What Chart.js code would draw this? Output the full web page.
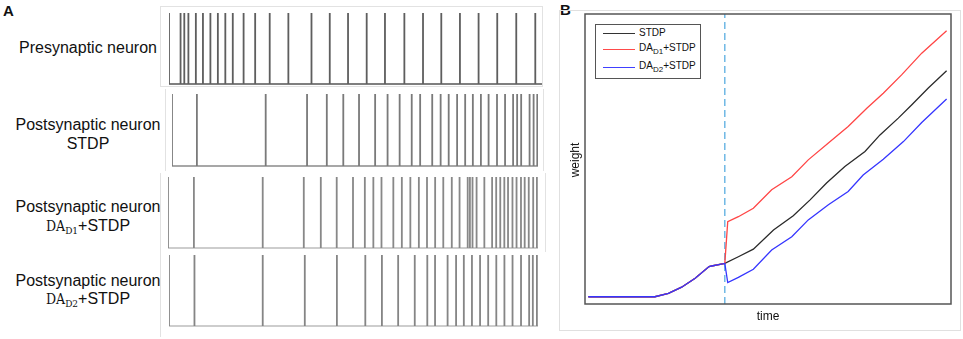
<!DOCTYPE html>
<html>
<head>
<meta charset="utf-8">
<script src="https://cdn.jsdelivr.net/npm/chart.js@4.4.1/dist/chart.umd.min.js"></script>
<style>
  html, body { margin:0; padding:0; background:#fff; }
  body { width:963px; height:339px; position:relative; overflow:hidden;
         font-family:'Liberation Sans', Arial, sans-serif; color:#111; }
  .abs { position:absolute; }
  .lbl { position:absolute; left:0; width:176px; text-align:center; font-size:16px; white-space:nowrap; }
  .da { font-family:'DejaVu Serif Condensed','DejaVu Serif','Liberation Serif',serif; font-size:14px; }
  .da sub { font-size:10px; vertical-align:-3px; line-height:0; }
  .lg { position:absolute; font-size:10px; white-space:nowrap; line-height:12px; }
  .lg sub { font-size:8px; vertical-align:-3px; line-height:0; }
  .ln { position:absolute; height:1.3px; width:32px; left:603px; }
  canvas { position:absolute; }
</style>
</head>
<body>
<script>
// ---------------- DATA ----------------
// Panel A: spike times (arbitrary time units, 0..1000 along each raster)
const spikesPre = [0, 31, 41, 52, 72, 91, 111, 131, 151, 171, 200, 231, 270, 320, 382, 431, 480, 530, 579, 631, 681, 730, 780, 830, 880, 931, 982];
const spikesSTDP = [0, 68, 256, 369, 423, 468, 511, 555, 589, 622, 655, 678, 711, 734, 756, 779, 801, 822, 844, 865, 888, 910, 932, 943, 954, 977, 988, 998];
const spikesD1 = [0, 70, 256, 367, 413, 456, 500, 532, 555, 577, 609, 632, 655, 678, 700, 722, 744, 767, 788, 810, 816, 823, 834, 855, 876, 887, 898, 909, 919, 931, 942, 954, 964, 975, 987, 997];
const spikesD2 = [0, 69, 254, 368, 455, 532, 577, 621, 666, 700, 721, 755, 778, 799, 821, 843, 865, 887, 909, 931, 954, 976, 986, 997];
const rasterSpan = [0, 1000];

// Panel B: weight vs time (arbitrary units 0..100)
const timePre   = [0.9, 19.1, 22.8, 26.4, 30.1, 33.9, 34.6, 38.2];
const weightPre = [2.5, 2.5, 3.7, 5.8, 8.9, 12.9, 13.1, 14.0];
const timeSTDP   = [41.9, 46.0, 51.5, 56.9, 61.5, 66.0, 71.0, 76.5, 80.6, 85.6, 89.3, 93.8, 98.8];
const weightSTDP = [16.3, 18.9, 25.5, 30.4, 35.9, 41.7, 47.4, 52.6, 58.3, 64.1, 68.7, 74.5, 80.4];
const timeD1   = [39.0, 41.9, 46.0, 51.0, 56.5, 61.0, 66.5, 71.9, 77.0, 81.5, 86.5, 92.0, 98.8];
const weightD1 = [28.4, 30.1, 33.0, 39.4, 43.9, 49.7, 55.5, 61.2, 67.5, 72.7, 79.0, 86.5, 94.2];
const timeD2   = [39.0, 41.9, 46.0, 51.0, 56.5, 61.0, 66.5, 71.9, 76.0, 81.5, 87.0, 92.0, 98.8];
const weightD2 = [7.4, 9.2, 12.0, 18.6, 23.2, 29.0, 34.2, 38.8, 44.5, 49.9, 56.0, 62.6, 70.7];
const eventTime = 38.2;
const axisRange = [0, 100];
</script>

<!-- panel letters -->
<div class="abs" style="left:3px;top:2px;font-weight:bold;font-size:15px;">A</div>
<div class="abs" style="left:560px;top:1px;font-weight:bold;font-size:15px;">B</div>

<!-- raster frames -->
<div class="abs" style="left:160px;top:6px;width:381px;height:79px;border:1px solid #e2e2e2;"></div>
<div class="abs" style="left:165px;top:89px;width:377px;height:82px;border-left:1px solid #e2e2e2;border-right:1px solid #e2e2e2;"></div>
<div class="abs" style="left:160px;top:173px;width:384px;height:79px;border-left:1px solid #e2e2e2;border-right:1px solid #e2e2e2;"></div>
<div class="abs" style="left:160px;top:251px;width:384px;height:86px;border-left:1px solid #e2e2e2;"></div>
<!-- panel B frame -->
<div class="abs" style="left:559px;top:10px;width:400px;height:319px;border:1px solid #e0e0e0;"></div>

<!-- row labels -->
<div class="lbl" style="top:39px;line-height:18px;">Presynaptic neuron</div>
<div class="lbl" style="top:115px;line-height:19px;">Postsynaptic neuron<br>STDP</div>
<div class="lbl" style="top:198px;line-height:18.5px;">Postsynaptic neuron<br><span class="da">DA<sub>D1</sub></span>+STDP</div>
<div class="lbl" style="top:272px;line-height:17.5px;">Postsynaptic neuron<br><span class="da">DA<sub>D2</sub></span>+STDP</div>

<canvas id="r1"></canvas>
<canvas id="r2"></canvas>
<canvas id="r3"></canvas>
<canvas id="r4"></canvas>
<canvas id="cb"></canvas>

<!-- panel B axis titles -->
<div class="abs" style="left:748px;top:309px;width:40px;text-align:center;font-size:12px;">time</div>
<div class="abs" style="left:545px;top:153px;width:60px;text-align:center;font-size:12px;transform:rotate(-90deg);">weight</div>

<!-- panel B legend -->
<div class="abs" style="left:595px;top:24px;width:106px;height:55px;border:1px solid #555;background:#fff;box-sizing:border-box;"></div>
<div class="ln" style="top:33px;background:#333;"></div>
<div class="ln" style="top:49px;background:#ff4a4a;"></div>
<div class="ln" style="top:67px;background:#4040ff;"></div>
<div class="lg" style="left:639px;top:27px;">STDP</div>
<div class="lg" style="left:639px;top:42px;">DA<sub>D1</sub>+STDP</div>
<div class="lg" style="left:639px;top:60px;">DA<sub>D2</sub>+STDP</div>

<script>
Chart.defaults.animation = false;
Chart.defaults.responsive = false;
Chart.defaults.plugins.legend.display = false;
Chart.defaults.plugins.tooltip.enabled = false;

function makeRaster(id, spikes, g, spikeColor, baseColor) {
  const c = document.getElementById(id);
  const padL = 4, padR = 4, padT = 2, padB = 2;
  const w = (g.end - g.start) + padL + padR;
  const h = (g.base - g.top) + padT + padB;
  c.width = w; c.height = h;
  c.style.left = (g.start - padL) + 'px';
  c.style.top = (g.top - padT) + 'px';
  c.style.width = w + 'px'; c.style.height = h + 'px';
  new Chart(c, {
    type: 'bar',
    data: {
      datasets: [
        { type: 'bar', data: spikes.map(t => ({ x: t, y: 1 })),
          backgroundColor: spikeColor, barThickness: 1.15, borderWidth: 0 },
        { type: 'line', data: rasterSpan.map(t => ({ x: t, y: 0 })),
          borderColor: baseColor, borderWidth: 1.3, pointRadius: 0, clip: false }
      ]
    },
    options: {
      layout: { padding: { left: padL, right: padR, top: padT, bottom: padB } },
      scales: {
        x: { type: 'linear', min: rasterSpan[0], max: rasterSpan[1], offset: false, display: false },
        y: { min: 0, max: 1, display: false }
      }
    }
  });
}

makeRaster('r1', spikesPre,  { start: 169, end: 542, top: 13,  base: 84 },  '#5e5e5e', '#555');
makeRaster('r2', spikesSTDP, { start: 172, end: 538, top: 94,  base: 166 }, '#7a7a7a', '#8a8a8a');
makeRaster('r3', spikesD1,   { start: 168, end: 538, top: 177, base: 248 }, '#888888', '#bdbdbd');
makeRaster('r4', spikesD2,   { start: 169, end: 538, top: 255, base: 326 }, '#858585', '#bdbdbd');

// Panel B
const pts = (xs, ys) => xs.map((x, i) => ({ x: x, y: ys[i] }));
const cb = document.getElementById('cb');
cb.width = 400; cb.height = 320;
cb.style.left = '560px'; cb.style.top = '10px';
cb.style.width = '400px'; cb.style.height = '320px';

const boxPlugin = {
  id: 'box',
  afterDraw(chart) {
    const a = chart.chartArea, ctx = chart.ctx;
    ctx.save();
    ctx.strokeStyle = '#555';
    ctx.lineWidth = 1.5;
    ctx.strokeRect(a.left, a.top, a.right - a.left, a.bottom - a.top);
    ctx.restore();
  }
};

new Chart(cb, {
  type: 'line',
  data: {
    datasets: [
      { label: 'DA_D2+STDP', data: pts(timePre.concat(timeD2), weightPre.concat(weightD2)),
        borderColor: '#3535ff', borderWidth: 1.3, pointRadius: 0 },
      { label: 'DA_D1+STDP', data: pts(timePre.concat(timeD1), weightPre.concat(weightD1)),
        borderColor: '#ff4545', borderWidth: 1.3, pointRadius: 0 },
      { label: 'STDP', data: pts(timePre.concat(timeSTDP), weightPre.concat(weightSTDP)),
        borderColor: '#2a2a2a', borderWidth: 1.3, pointRadius: 0 },
      { label: 'event', data: pts([eventTime, eventTime], axisRange),
        borderColor: '#5aaee0', borderWidth: 1.3, borderDash: [7, 4], pointRadius: 0 }
    ]
  },
  options: {
    layout: { padding: { left: 25, right: 9, top: 4, bottom: 26 } },
    scales: {
      x: { type: 'linear', min: axisRange[0], max: axisRange[1], display: false },
      y: { type: 'linear', min: axisRange[0], max: axisRange[1], display: false }
    }
  },
  plugins: [boxPlugin]
});
</script>
</body>
</html>
